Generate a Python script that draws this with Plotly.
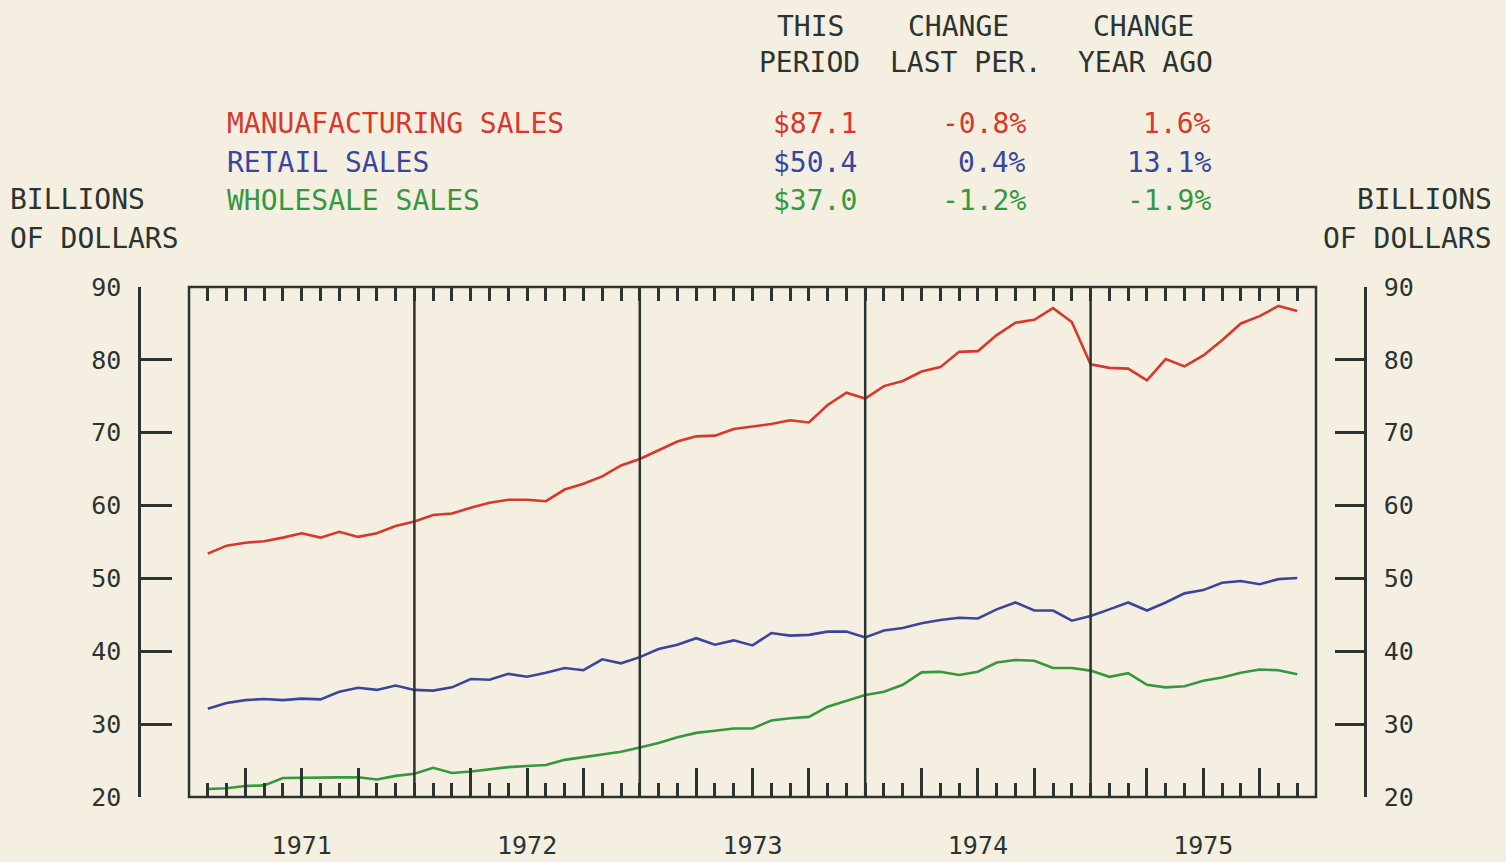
import plotly.graph_objects as go

# ---- data (monthly, plotted at month ends, 1971 .. Nov 1975) ----
start_year = 1971
end_year = 1976
year_labels = ["1971", "1972", "1973", "1974", "1975"]
year_bounds = [1972, 1973, 1974, 1975]

manufacturing = [53.4, 54.5, 54.9, 55.1, 55.6, 56.2, 55.6, 56.4, 55.7, 56.2, 57.2, 57.8,
                 58.7, 58.9, 59.7, 60.4, 60.8, 60.8, 60.6, 62.2, 63.0, 64.0, 65.5, 66.4,
                 67.6, 68.8, 69.5, 69.6, 70.5, 70.8, 71.2, 71.7, 71.4, 73.8, 75.5, 74.7,
                 76.4, 77.1, 78.4, 79.0, 81.1, 81.2, 83.4, 85.1, 85.5, 87.1, 85.2, 79.4,
                 78.9, 78.8, 77.2, 80.1, 79.1, 80.6, 82.7, 85.0, 86.0, 87.4, 86.7]
retail = [32.1, 32.9, 33.3, 33.45, 33.3, 33.5, 33.4, 34.45, 35.0, 34.7, 35.3, 34.7,
          34.6, 35.05, 36.2, 36.1, 36.9, 36.5, 37.05, 37.7, 37.4, 38.9, 38.35, 39.2,
          40.3, 40.9, 41.8, 40.9, 41.5, 40.8, 42.5, 42.15, 42.25, 42.7, 42.7, 41.9,
          42.85, 43.2, 43.85, 44.3, 44.6, 44.5, 45.75, 46.7, 45.6, 45.6, 44.2, 44.85,
          45.75, 46.7, 45.6, 46.7, 47.95, 48.4, 49.4, 49.65, 49.2, 49.9, 50.05]
wholesale = [21.1, 21.2, 21.5, 21.6, 22.6, 22.65, 22.6, 22.7, 22.7, 22.4, 22.9, 23.2,
             24.0, 23.3, 23.5, 23.8, 24.1, 24.25, 24.4, 25.1, 25.5, 25.9, 26.2, 26.8,
             27.4, 28.2, 28.8, 29.1, 29.4, 29.4, 30.5, 30.8, 31.0, 32.4, 33.2, 34.0,
             34.45, 35.4, 37.1, 37.2, 36.75, 37.2, 38.45, 38.8, 38.7, 37.7, 37.7, 37.35,
             36.5, 37.0, 35.4, 35.05, 35.2, 35.95, 36.4, 37.05, 37.5, 37.4, 36.85]

series_names = ["MANUAFACTURING SALES", "RETAIL SALES", "WHOLESALE SALES"]
this_period = ["$87.1", "$50.4", "$37.0"]
change_last = ["-0.8%", "0.4%", "-1.2%"]
change_year = ["1.6%", "13.1%", "-1.9%"]

y_ticks = [20, 30, 40, 50, 60, 70, 80, 90]

# ---- styling ----
BG = "#f4efe1"
INK = "#2b3431"
RED = "#d8382c"
BLUE = "#3a469e"
GREEN = "#36983c"
colors = [RED, BLUE, GREEN]
FONT = "DejaVu Sans Mono"

W, H = 1506, 862
ML, MR, MT, MB = 139, 141, 287, 65
PW = W - ML - MR
PH = H - MT - MB

def px(x):
    return (x - ML) / PW

def py(y):
    return (H - MB - y) / PH

months = [start_year + i / 12 for i in range(1, len(manufacturing) + 1)]

quarter_vals = []
quarter_text = []
for k, yl in enumerate(year_labels):
    for q in (1, 2, 3):
        quarter_vals.append(start_year + k + q / 4)
        quarter_text.append(yl if q == 2 else "")

fig = go.Figure()
fig.add_trace(go.Scatter(x=months, y=manufacturing, mode="lines", line=dict(color=RED, width=2.6),
                         xaxis="x", yaxis="y", showlegend=False, hoverinfo="skip"))
fig.add_trace(go.Scatter(x=months, y=retail, mode="lines", line=dict(color=BLUE, width=2.6),
                         xaxis="x", yaxis="y2", showlegend=False, hoverinfo="skip"))
fig.add_trace(go.Scatter(x=months, y=wholesale, mode="lines", line=dict(color=GREEN, width=2.6),
                         xaxis="x2", yaxis="y", showlegend=False, hoverinfo="skip"))

xdom = [px(189), px(1316)]
common_x = dict(
    range=[start_year, end_year], domain=xdom, showgrid=False, zeroline=False,
    tickmode="array", tickvals=quarter_vals, ticks="inside", ticklen=29, tickwidth=2.5,
    tickcolor=INK, showline=False, automargin=False,
    minor=dict(dtick=1 / 12, tick0=start_year, ticks="inside", ticklen=14, tickwidth=2.5,
               tickcolor=INK, showgrid=False),
)
fig.update_layout(
    xaxis=dict(**common_x, ticktext=quarter_text, anchor="y", side="bottom",
               ticklabelstandoff=31, tickfont=dict(family=FONT, size=25, color=INK)),
    xaxis2=dict(**common_x, ticktext=[""] * len(quarter_vals), anchor="y", side="top",
                overlaying="x", matches="x", showticklabels=False),
    yaxis=dict(range=[20, 90], anchor="free", position=0, side="left", tickvals=y_ticks,
               ticks="inside", ticklen=31, tickwidth=2.5, tickcolor=INK, showline=True,
               linewidth=2.5, linecolor=INK, showgrid=False, zeroline=False, automargin=False,
               ticklabelstandoff=12, tickfont=dict(family=FONT, size=25, color=INK)),
    yaxis2=dict(range=[20, 90], anchor="free", position=1, side="right", overlaying="y",
                matches="y", tickvals=y_ticks, ticks="inside", ticklen=29, tickwidth=2.5,
                tickcolor=INK, showline=True, linewidth=2.5, linecolor=INK, showgrid=False,
                zeroline=False, automargin=False, ticklabelstandoff=12,
                tickfont=dict(family=FONT, size=25, color=INK)),
    width=W, height=H,
    margin=dict(l=ML, r=MR, t=MT, b=MB, autoexpand=False),
    paper_bgcolor=BG, plot_bgcolor=BG,
    showlegend=False,
)

# plot frame and year dividers
fig.add_shape(type="rect", xref="x domain", yref="y domain", x0=0, x1=1, y0=0, y1=1,
              line=dict(color=INK, width=2.5), layer="above")
for yb in year_bounds:
    fig.add_shape(type="line", xref="x", yref="y domain", x0=yb, x1=yb, y0=0, y1=1,
                  line=dict(color=INK, width=2.5), layer="above")

def text(s, x, y, xanchor, color=INK, size=28):
    fig.add_annotation(text=s, x=px(x), y=py(y), xref="paper", yref="paper",
                       xanchor=xanchor, yanchor="middle", showarrow=False,
                       font=dict(family=FONT, size=size, color=color))

# header
text("THIS", 810, 26, "center")
text("PERIOD", 809, 62, "center")
text("CHANGE", 958, 26, "center")
text("LAST PER.", 966, 62, "center")
text("CHANGE", 1143, 26, "center")
text("YEAR AGO", 1145, 62, "center")

rows_y = [123, 162, 201]
for name, v, c1, c2, col, ry in zip(series_names, this_period, change_last, change_year, colors, rows_y):
    text(name, 225, ry, "left", col)
    text(v, 859, ry, "right", col)
    text(c1, 1028, ry, "right", col)
    text(c2, 1213, ry, "right", col)

text("BILLIONS", 8, 200, "left")
text("OF DOLLARS", 8, 239, "left")
text("BILLIONS", 1494, 200, "right")
text("OF DOLLARS", 1494, 239, "right")

fig.write_html("out.html", config={"displayModeBar": False})

# remove the browser's default page margin so the figure sits at the window origin
with open("out.html", "r", encoding="utf-8") as f:
    html = f.read()
html = html.replace("<head>", "<head><style>html,body{margin:0;padding:0;overflow:hidden;}</style>", 1)
with open("out.html", "w", encoding="utf-8") as f:
    f.write(html)
